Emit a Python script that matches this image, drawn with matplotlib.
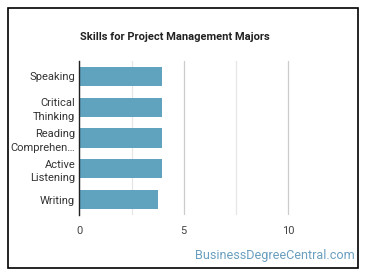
import matplotlib
matplotlib.use("Agg")
import matplotlib.pyplot as plt
from matplotlib.patches import Rectangle

skills = ["Speaking", "Critical\nThinking", "Reading\nComprehen…", "Active\nListening", "Writing"]
values = [3.97, 3.97, 3.97, 3.94, 3.78]
xticks = [0, 5, 10]

W, H = 370, 278
fig = plt.figure(figsize=(W/100, H/100), dpi=100)
fig.patch.set_facecolor("white")
plt.rcParams['font.family'] = ['Roboto', 'DejaVu Sans']

ax = fig.add_axes([79.3/W, 1-215/H, (340.6-79.3)/W, (215-61)/H])
ypos = list(range(len(skills)))
ax.barh(ypos, values, height=0.62, color="#5fa3bf", zorder=3)
ax.set_ylim(len(skills)-0.5, -0.5)
ax.set_xlim(0, 12.5)
ax.set_yticks(ypos)
ax.set_yticklabels(skills, fontsize=8, color="#333333", linespacing=1.45)
ax.set_xticks(xticks)
ax.set_xticklabels([str(t) for t in xticks], fontsize=8, color="#444444")
ax.set_xticks([2.5, 7.5], minor=True)
ax.tick_params(axis="both", which="both", length=0, pad=3)
ax.tick_params(axis="x", pad=8)
ax.grid(axis="x", which="major", color="#cccccc", linewidth=0.9, zorder=0)
ax.grid(axis="x", which="minor", color="#e6e6e6", linewidth=0.9, zorder=0)
for s in ["top", "right", "bottom"]:
    ax.spines[s].set_visible(False)
ax.spines["left"].set_color("#222222")
ax.spines["left"].set_linewidth(1.0)
ax.spines["left"].set_zorder(4)

fig.text(175/W, 1-37/H, "Skills for Project Management Majors", ha="center", va="center",
         fontsize=8, fontweight="bold", color="#222222")
fig.text(355/W, 1-255/H, "BusinessDegreeCentral.com", ha="right", va="center",
         fontsize=9.1, color="#6a9fbf")

fig.patches.append(Rectangle((8/W, 1-268/H), (358-8)/W, (268-8)/H, transform=fig.transFigure,
                             fill=False, edgecolor="black", linewidth=1.2))
fig.savefig("out.png", dpi=100, facecolor="white")
